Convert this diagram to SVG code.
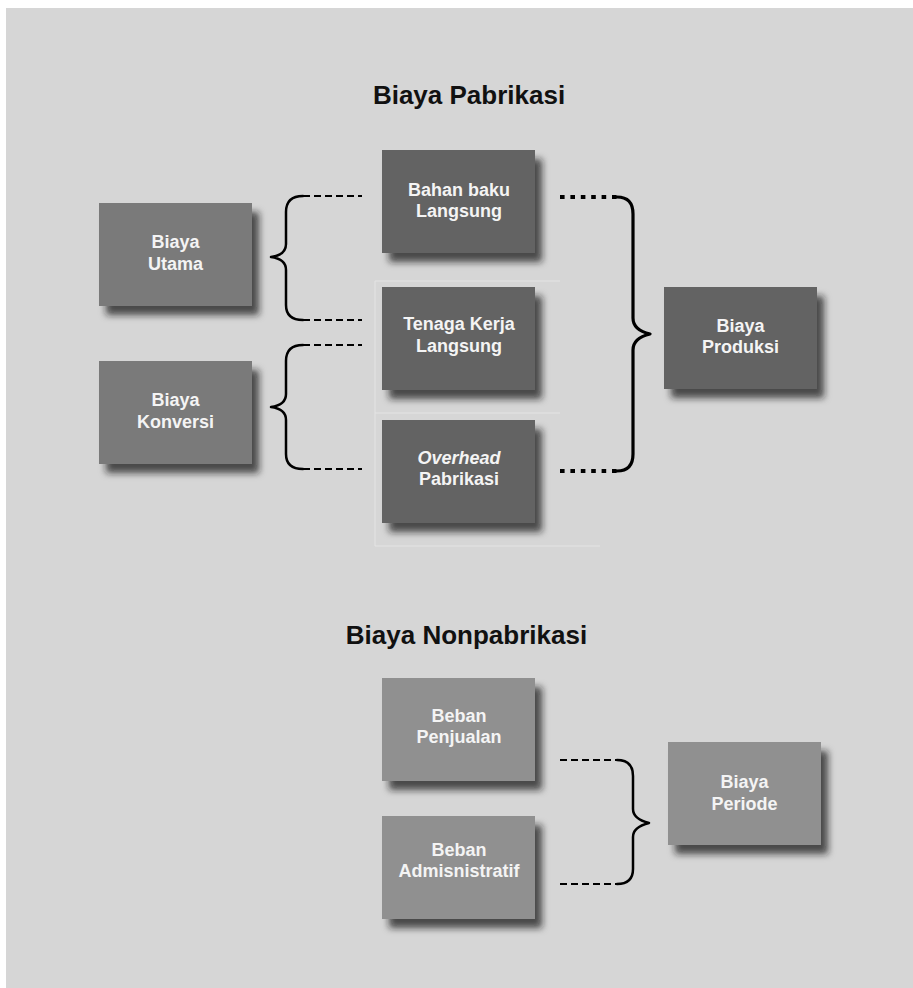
<svg xmlns="http://www.w3.org/2000/svg" width="913" height="988" viewBox="0 0 913 988">
<defs>
<filter id="sh" x="-20%" y="-20%" width="150%" height="160%">
<feDropShadow dx="7" dy="9" stdDeviation="3.5" flood-color="#1a1a1a" flood-opacity="0.75"/>
</filter>
</defs>
<style>
text{font-family:"Liberation Sans",Arial,Helvetica,sans-serif;font-weight:bold}
.t{font-size:18px;fill:#f4f4f4;text-anchor:middle}
.title{font-size:26px;fill:#111;text-anchor:middle}
.dark{fill:#636363}
.mid{fill:#7a7a7a}
.light{fill:#909090}
.br{fill:none;stroke:#000;stroke-width:2.5;stroke-linejoin:round;stroke-linecap:round}
.dot{fill:none;stroke:#000;stroke-width:2.2;stroke-dasharray:7 4}
.thick{fill:none;stroke:#000;stroke-width:4.2;stroke-dasharray:4.6 5.8}
.faint{fill:none;stroke:#e4e4e4;stroke-width:1}
</style>
<rect x="0" y="0" width="913" height="988" fill="#ffffff"/>
<rect x="6" y="8" width="907" height="980" fill="#d6d6d6"/>
<path class="faint" d="M375,281 V546 M375,281 H560 M375,413 H560 M375,546 H600"/>
<text class="title" x="469" y="104">Biaya Pabrikasi</text>
<text class="title" x="466.5" y="644">Biaya Nonpabrikasi</text>
<g id="connectors">
<path class="dot" d="M303,196 H362 M303,320 H362"/>
<path class="br" d="M303,196 Q286,196 286,212 L286,244 Q286,255 271,257 Q286,259 286,270 L286,305 Q286,320 303,320"/>
<path class="dot" d="M303,345 H362 M303,469 H362"/>
<path class="br" d="M303,345 Q286,345 286,361 L286,394 Q286,405 271,407 Q286,409 286,420 L286,454 Q286,469 303,469"/>
<path class="thick" d="M560,197 H618 M560,471 H618"/>
<path class="br" style="stroke-width:3.2" d="M617,197 Q633,197 633,214 L633,318 Q633,330 650,334 Q633,338 633,350 L633,454 Q633,471 617,471"/>
<path class="dot" d="M560,760 H618 M560,884 H618"/>
<path class="br" d="M617,760 Q633,760 633,776 L633,809 Q633,819 649,823 Q633,827 633,837 L633,869 Q633,884 617,884"/>
</g>
<g id="biaya-utama">
<rect class="mid" x="99" y="203" width="153" height="103" filter="url(#sh)"/>
<text class="t" x="175.5" y="248">Biaya</text>
<text class="t" x="175.5" y="269.5">Utama</text>
</g>
<g id="biaya-konversi">
<rect class="mid" x="99" y="361" width="153" height="103" filter="url(#sh)"/>
<text class="t" x="175.5" y="406">Biaya</text>
<text class="t" x="175.5" y="427.5">Konversi</text>
</g>
<g id="bahan-baku">
<rect class="dark" x="382" y="150" width="153" height="103" filter="url(#sh)"/>
<text class="t" x="459" y="195.5">Bahan baku</text>
<text class="t" x="459" y="217">Langsung</text>
</g>
<g id="tenaga-kerja">
<rect class="dark" x="382" y="287" width="153" height="103" filter="url(#sh)"/>
<text class="t" x="459" y="330">Tenaga Kerja</text>
<text class="t" x="459" y="351.5">Langsung</text>
</g>
<g id="overhead">
<rect class="dark" x="382" y="420" width="153" height="103" filter="url(#sh)"/>
<text class="t" x="459" y="463.5"><tspan font-style="italic">Overhead</tspan></text>
<text class="t" x="459" y="485">Pabrikasi</text>
</g>
<g id="biaya-produksi">
<rect class="dark" x="664" y="287" width="153" height="102" filter="url(#sh)"/>
<text class="t" x="740.5" y="331.5">Biaya</text>
<text class="t" x="740.5" y="353">Produksi</text>
</g>
<g id="beban-penjualan">
<rect class="light" x="382" y="678" width="153" height="103" filter="url(#sh)"/>
<text class="t" x="459" y="721.5">Beban</text>
<text class="t" x="459" y="743">Penjualan</text>
</g>
<g id="beban-admin">
<rect class="light" x="382" y="816" width="153" height="103" filter="url(#sh)"/>
<text class="t" x="459" y="855.5">Beban</text>
<text class="t" x="459" y="877">Admisnistratif</text>
</g>
<g id="biaya-periode">
<rect class="light" x="668" y="742" width="153" height="103" filter="url(#sh)"/>
<text class="t" x="744.5" y="788">Biaya</text>
<text class="t" x="744.5" y="809.5">Periode</text>
</g>
</svg>
